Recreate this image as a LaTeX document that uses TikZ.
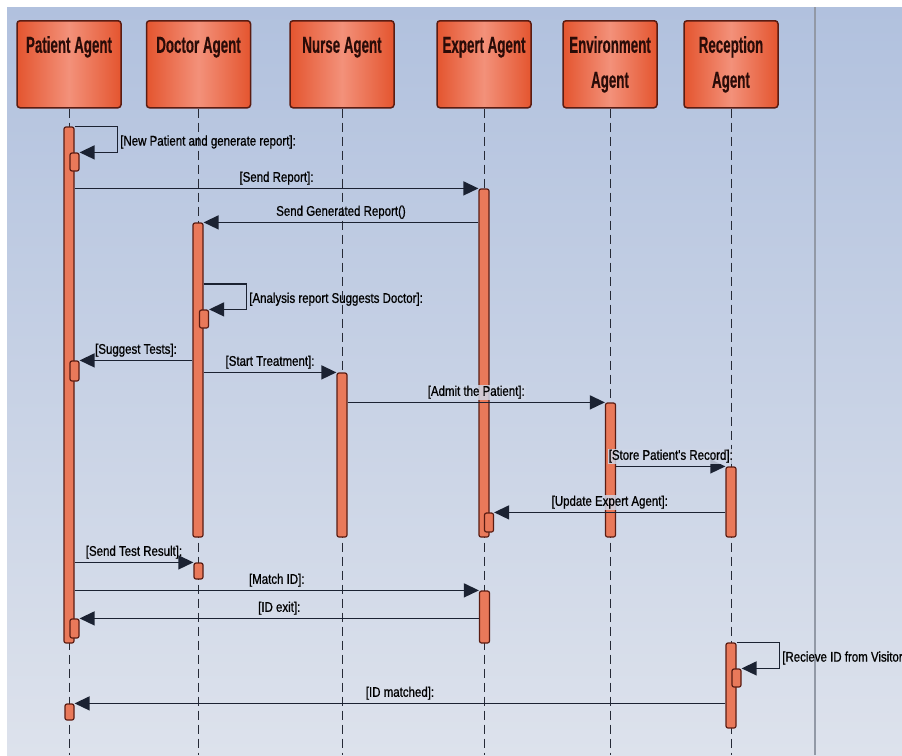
\documentclass[tikz,border=0pt]{standalone}
\usepackage{fontspec}
\setmainfont{Liberation Sans}[FakeStretch=0.82]
\newfontfamily\headfont{Liberation Sans}[FakeStretch=0.58, FakeBold=0.4]
\newfontfamily\labelfont{Liberation Sans}[FakeStretch=0.82, FakeBold=0.8]
\usetikzlibrary{arrows.meta}

\definecolor{bgtop}{HTML}{B1C1DE}
\definecolor{bgbot}{HTML}{DDE2EC}
\definecolor{boxdark}{HTML}{E4552F}
\definecolor{boxlight}{HTML}{F3917A}
\definecolor{boxline}{HTML}{5A1C12}
\definecolor{headtext}{HTML}{2A0C08}
\definecolor{barfill}{HTML}{E9795A}
\definecolor{msgline}{HTML}{1B2232}
\definecolor{lifegray}{HTML}{262A36}
\definecolor{sepgray}{HTML}{9299A6}
\definecolor{labelbg}{HTML}{CED6E7}

\tikzset{
	headbox/.style={draw=boxline, line width=1.5pt, rounded corners=3pt,
		left color=boxdark, right color=boxdark, middle color=boxlight,
		anchor=north, inner sep=0pt, minimum width=94pt, align=center,
		text=headtext, font=\headfont\bfseries\fontsize{23}{35}\selectfont},
	oneline/.style={text height=32pt, text depth=55pt},
	twoline/.style={text height=67pt, text depth=20pt},
	lifeline/.style={draw=lifegray, line width=1pt, dash pattern=on 9pt off 5pt},
	actbar/.style={draw=boxline, fill=barfill, line width=1.2pt, rounded corners=2pt,
		minimum width=10pt, inner sep=0pt},
	callbox/.style={actbar, minimum width=9pt},
	msg/.style={draw=msgline, line width=1.4pt, -{Triangle[length=15pt, width=14pt]}},
	msglabel/.style={font=\labelfont\fontsize{14}{16}\selectfont, text=black,
		inner sep=1pt},
	covering/.style={fill=labelbg, fill opacity=0.85, text opacity=1}
}

\begin{document}
\begin{tikzpicture}[x=1pt, y=-1pt]
	\useasboundingbox (0,0) rectangle (902,755);
	\clip (0,0) rectangle (902,755);
	% background
	\fill[white] (0,0) rectangle (902,755);
	\fill[top color=bgtop, bottom color=bgbot] (7,7) rectangle (902,755);
	\draw[sepgray, line width=2pt] (815,7) -- (815,755);

	% agents
	\node[headbox, minimum width=104pt, oneline] (patient) at (69,20) {Patient Agent};
	\node[headbox, minimum width=104pt, oneline] (doctor) at (198.5,20) {Doctor Agent};
	\node[headbox, minimum width=104pt, oneline] (nurse) at (342,20) {Nurse Agent};
	\node[headbox, oneline] (expert) at (484,20) {Expert Agent};
	\node[headbox, twoline] (environment) at (610,20) {Environment\\Agent};
	\node[headbox, twoline] (reception) at (731,20) {Reception\\Agent};

	\foreach \a in {patient, doctor, nurse, expert, environment, reception}
		\draw[lifeline] (\a.south) -- (\a.south |- 0,755);

	% activation bars
	\node[actbar, minimum height=516pt] (patbar) at (69,385) {};
	\node[callbox, minimum height=18pt] (patself) at (74.5,162) {};
	\node[actbar, minimum height=314pt] (docbar) at (198,380) {};
	\node[callbox, minimum height=18pt] (docself) at (204,319) {};
	\node[callbox, minimum height=20pt] (patsug) at (74.5,371) {};
	\node[actbar, minimum height=348pt] (expbar) at (484,363) {};
	\node[actbar, minimum height=164pt] (nursebar) at (342,455) {};
	\node[actbar, minimum height=134pt] (envbar) at (610.5,470) {};
	\node[actbar, minimum height=70pt] (recbar) at (731,502) {};
	\node[callbox, minimum height=19pt] (expupd) at (489,522.5) {};
	\node[callbox, minimum height=16pt] (doctest) at (198.5,571) {};
	\node[actbar, minimum height=52pt] (expbar2) at (484.5,617) {};
	\node[callbox, minimum height=19pt] (patexit) at (74.5,628.5) {};
	\node[actbar, minimum height=85pt] (recbar2) at (731,685.5) {};
	\node[callbox, minimum height=18pt] (recself) at (736.5,678) {};
	\node[callbox, minimum height=16pt] (patmatch) at (69.5,712) {};

	% messages
	\draw[msg] (patbar.north east) -- ++(43,0) |- (patself.north east)
		node[pos=0.3, right, msglabel, xshift=1pt] {[New Patient and generate report]:};
	\draw[msg] (patbar.east |- expbar.north) -- (expbar.north west)
		node[midway, above=2pt, msglabel] {[Send Report]:};
	\draw[msg] (expbar.west |- docbar.north) -- (docbar.north east)
		node[midway, above=2pt, msglabel] {Send Generated Report()};
	\draw[msg] (docbar.east |- 0,284) -- ++(43,0) |- (docself.north east)
		node[pos=0.3, right, msglabel, xshift=1pt] {[Analysis report Suggests Doctor]:};
	\draw[msg] (docbar.west |- patsug.north) -- (patsug.north east)
		node[midway, above=2pt, msglabel] {[Suggest Tests]:};
	\draw[msg] (docbar.east |- nursebar.north) -- (nursebar.north west)
		node[midway, above=2pt, msglabel] {[Start Treatment]:};
	\draw[msg] (nursebar.east |- envbar.north) -- (envbar.north west)
		node[midway, above=2pt, msglabel, covering] {[Admit the Patient]:};
	\draw[msg] (envbar.east |- recbar.north) -- (recbar.north west)
		node[midway, above=2pt, msglabel, covering] {[Store Patient's Record]:};
	\draw[msg] (recbar.west |- expupd.north) -- (expupd.north east)
		node[midway, above=2pt, msglabel, covering] {[Update Expert Agent]:};
	\draw[msg] (patbar.east |- doctest.north) -- (doctest.north west)
		node[midway, above=2pt, msglabel] {[Send Test Result]:};
	\draw[msg] (patbar.east |- expbar2.north) -- (expbar2.north west)
		node[midway, above=2pt, msglabel] {[Match ID]:};
	\draw[msg] (expbar2.west |- patexit.north) -- (patexit.north east)
		node[midway, above=2pt, msglabel] {[ID exit]:};
	\draw[msg] (recbar2.north east) -- ++(43,0) |- (recself.north east)
		node[pos=0.3, right, msglabel, xshift=1pt] {[Recieve ID from Visitor]:};
	\draw[msg] (recbar2.west |- patmatch.north) -- (patmatch.north east)
		node[midway, above=2pt, msglabel] {[ID matched]:};
\end{tikzpicture}
\end{document}
